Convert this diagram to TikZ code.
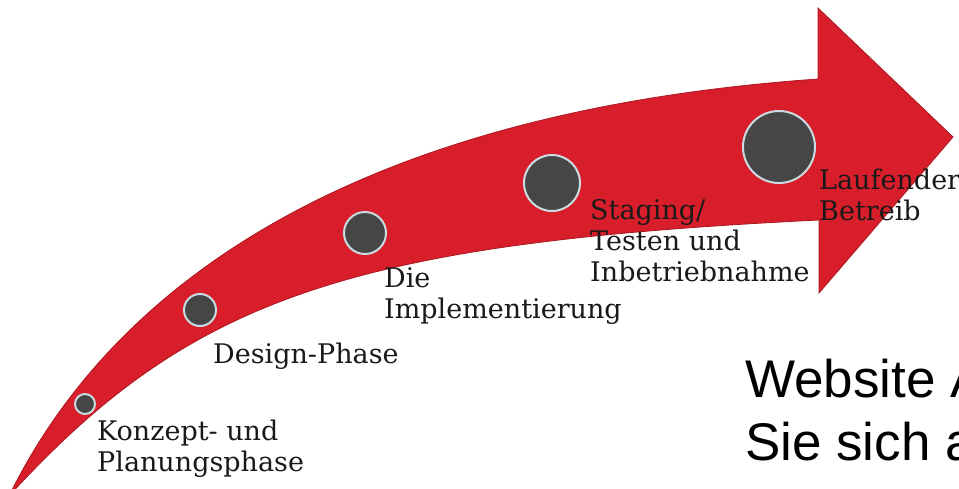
\documentclass[tikz,border=0pt]{standalone}
\usepackage{fontspec}
\newfontfamily\labelfont{DejaVu Serif}
\newfontfamily\notefont{Liberation Sans}
\definecolor{arrowred}{RGB}{216,30,42}
\definecolor{arrowedge}{RGB}{170,24,32}
\definecolor{dotgray}{RGB}{70,70,70}
\definecolor{dotring}{RGB}{200,220,226}
\definecolor{labelink}{RGB}{25,25,25}
\begin{document}
\begin{tikzpicture}[x=1pt,y=-1pt,
  band/.style={fill=arrowred, draw=arrowedge, line width=0.8pt, line join=miter},
  milestone/.style={circle, fill=dotgray, draw=dotring, line width=2pt, inner sep=0pt},
  stagelabel/.style={anchor=base west, align=left, inner sep=0pt,
    font=\labelfont\fontsize{27}{31}\selectfont, text=labelink},
  note/.style={anchor=base west, inner sep=0pt,
    font=\notefont\fontsize{53}{63}\selectfont, text=black}]
\useasboundingbox (0,0) rectangle (959,488);
\clip (0,0) rectangle (959,488);

% curved arrow: upper edge, head, lower edge back to the pointed tail
\draw[band] (9,496) .. controls (120,270) and (376,110) .. (818,79)
  -- (818,8) -- (953,137) -- (819,293) -- (819,220)
  .. controls (351,243) and (191,297) .. (9,496) -- cycle;

% milestones, growing along the arrow
\node[milestone, minimum size=20pt] (m1) at (85,404) {};
\node[milestone, minimum size=32pt] (m2) at (200,310) {};
\node[milestone, minimum size=42pt] (m3) at (365,233) {};
\node[milestone, minimum size=56pt] (m4) at (552,183) {};
\node[milestone, minimum size=72pt] (m5) at (779,147) {};

% phase labels (anchored at the baseline of their last line)
\node[stagelabel] (l1) at (97,471) {Konzept- und\\Planungsphase};
\node[stagelabel] (l2) at (213,363) {Design-Phase};
\node[stagelabel] (l3) at (384,318) {Die\\Implementierung};
\node[stagelabel] (l4) at (590,281) {Staging/\\Testen und\\Inbetriebnahme};
\node[stagelabel] (l5) at (819,220) {Laufender\\Betreib};

% running text at the lower right
\node[note] (t1) at (745,397) {Website A};
\node[note] (t2) at (745,460) {Sie sich a};
\end{tikzpicture}
\end{document}
